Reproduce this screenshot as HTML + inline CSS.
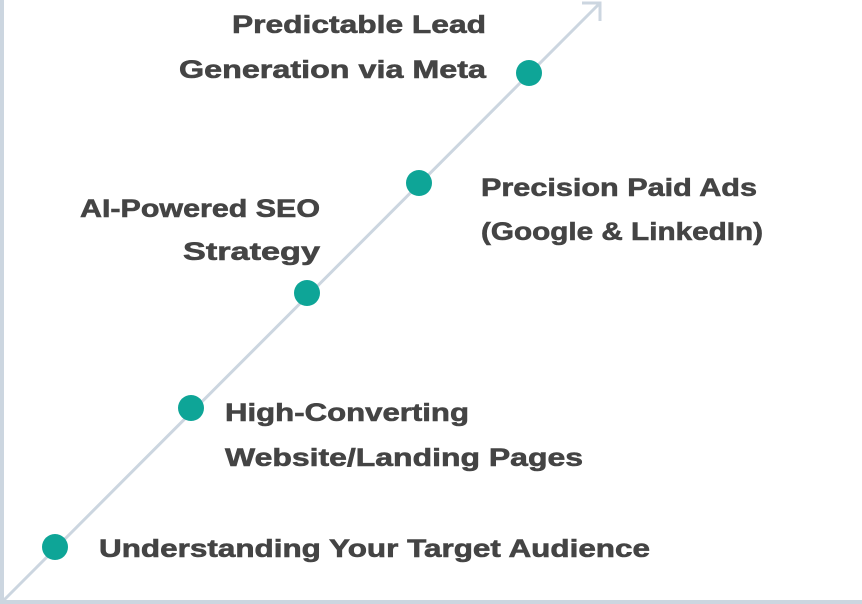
<!DOCTYPE html>
<html><head><style>
html,body{margin:0;padding:0;background:#fff;}
svg{display:block}
text{font-family:"Liberation Sans",sans-serif;font-weight:bold;font-size:25px;fill:#444;stroke:#444;stroke-width:0.6px;}
</style></head><body>
<svg width="862" height="604" viewBox="0 0 862 604" xmlns="http://www.w3.org/2000/svg">
<rect x="0" y="0" width="4" height="604" fill="#ccd6e0"/>
<rect x="0" y="600" width="862" height="4" fill="#ccd6e0"/>
<line x1="4" y1="600" x2="600" y2="3" stroke="#ccd6e0" stroke-width="3"/>
<polyline points="582,3 600,3 600,21" fill="none" stroke="#ccd6e0" stroke-width="3"/>
<g fill="#0ea597">
<circle cx="55" cy="547" r="13"/>
<circle cx="191" cy="408" r="13"/>
<circle cx="307" cy="293" r="13"/>
<circle cx="419" cy="183" r="13"/>
<circle cx="529" cy="73" r="13"/>
</g>
<text x="232" y="33" textLength="254" lengthAdjust="spacingAndGlyphs">Predictable Lead</text>
<text x="179" y="78" textLength="307" lengthAdjust="spacingAndGlyphs">Generation via Meta</text>
<text x="80" y="217" textLength="240" lengthAdjust="spacingAndGlyphs">AI-Powered SEO</text>
<text x="183" y="260" textLength="137" lengthAdjust="spacingAndGlyphs">Strategy</text>
<text x="481" y="196" textLength="276" lengthAdjust="spacingAndGlyphs">Precision Paid Ads</text>
<text x="481" y="240" textLength="282" lengthAdjust="spacingAndGlyphs">(Google &amp; LinkedIn)</text>
<text x="225" y="421" textLength="244" lengthAdjust="spacingAndGlyphs">High-Converting</text>
<text x="225" y="466" textLength="358" lengthAdjust="spacingAndGlyphs">Website/Landing Pages</text>
<text x="99" y="557" textLength="551" lengthAdjust="spacingAndGlyphs">Understanding Your Target Audience</text>
</svg>
</body></html>
